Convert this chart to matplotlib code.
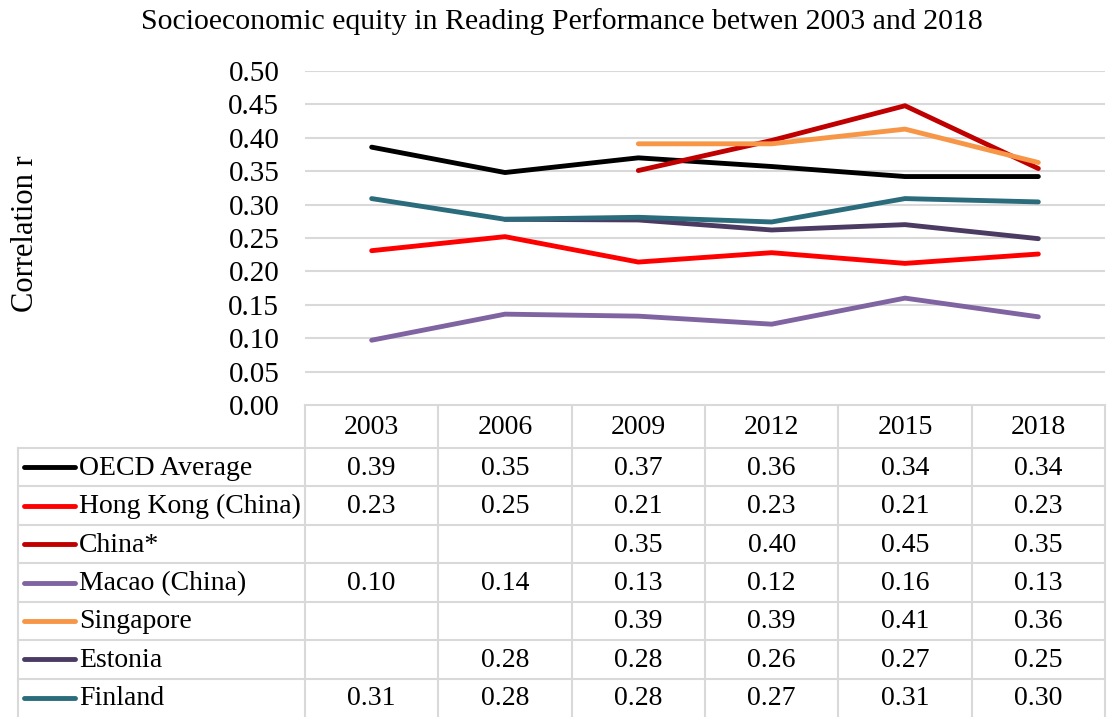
import numpy as np
import matplotlib
matplotlib.use("Agg")
import matplotlib.pyplot as plt
from matplotlib.transforms import blended_transform_factory

# data
years = ["2003", "2006", "2009", "2012", "2015", "2018"]
series_names = ["OECD Average", "Hong Kong (China)", "China*", "Macao (China)",
                "Singapore", "Estonia", "Finland"]
nan = np.nan
oecd = [0.386, 0.348, 0.370, 0.357, 0.342, 0.342]
hong_kong = [0.231, 0.252, 0.214, 0.228, 0.212, 0.226]
china = [nan, nan, 0.351, 0.396, 0.448, 0.354]
macao = [0.097, 0.136, 0.133, 0.121, 0.160, 0.132]
singapore = [nan, nan, 0.391, 0.391, 0.413, 0.363]
estonia = [nan, 0.278, 0.277, 0.262, 0.270, 0.249]
finland = [0.309, 0.278, 0.281, 0.274, 0.309, 0.304]
series_values = [oecd, hong_kong, china, macao, singapore, estonia, finland]
colors = ["#000000", "#ff0000", "#c00000", "#8064a2", "#f79646", "#4b3b63", "#2a6b7c"]

W, H = 1110, 717
plt.rcParams['font.family'] = ['Liberation Serif', 'DejaVu Serif']

fig = plt.figure(figsize=(W / 100, H / 100), dpi=100)

# plot area in pixels
left, right, top, bottom = 305, 1105, 71, 405
ax = fig.add_axes([left / W, 1 - bottom / H, (right - left) / W, (bottom - top) / H])

x = np.arange(len(years))
for vals, c in zip(series_values, colors):
    ax.plot(x, vals, color=c, lw=3.5, solid_capstyle='round', zorder=3)

ax.set_xlim(-0.5, len(years) - 0.5)
ax.set_ylim(0, 0.5)
ticks = np.arange(0, 0.501, 0.05)
ax.set_yticks(ticks)
ax.set_yticklabels([f"{v:.2f}" for v in ticks], fontsize=21)
ax.tick_params(axis='y', length=0, pad=18.5)
ax.set_xticks([])
ax.grid(axis='y', color='#d9d9d9', lw=1.5, zorder=0)
for s in ax.spines.values():
    s.set_visible(False)

fig.text(26 / W, 1 - 234 / H, "Correlation r", rotation=90,
         ha='center', va='center', fontsize=22)
fig.text(562 / W, 1 - 22 / H,
         "Socioeconomic equity in Reading Performance betwen 2003 and 2018",
         ha='center', va='center', fontsize=21.5)

# data table underneath, drawn on an overlay axes in pixel coordinates
tax = fig.add_axes([0, 0, 1, 1], zorder=-1)
tax.set_xlim(0, W)
tax.set_ylim(H, 0)
tax.axis('off')
btf = blended_transform_factory(ax.transData, tax.transData)

gc = '#d9d9d9'
head_top, head_bot = 405, 448
row_h = (H - head_bot) / len(series_names)
label_left = 18

# header row
tax.plot([left, right], [head_top, head_top], color=gc, lw=1.5)
for i in range(len(years) + 1):
    xx = left + i * (right - left) / len(years)
    tax.plot([xx, xx], [head_top, H], color=gc, lw=1.5)
tax.plot([label_left, label_left], [head_bot, H], color=gc, lw=1.5)
for j, yr in enumerate(years):
    tax.text(j, (head_top + head_bot) / 2 + 1, yr, transform=btf,
             ha='center', va='center', fontsize=20)

for r, (name, vals, c) in enumerate(zip(series_names, series_values, colors)):
    y0 = head_bot + r * row_h
    tax.plot([label_left, right], [y0, y0], color=gc, lw=1.5)
    yc = y0 + row_h / 2
    tax.plot([24, 75], [yc, yc], color=c, lw=3.5, solid_capstyle='round')
    tax.text(79, yc + 1, name, ha='left', va='center', fontsize=20)
    for j, v in enumerate(vals):
        if not np.isnan(v):
            tax.text(j, yc + 1, f"{v:.2f}", transform=btf,
                     ha='center', va='center', fontsize=20)

fig.savefig("out.png", dpi=100)
